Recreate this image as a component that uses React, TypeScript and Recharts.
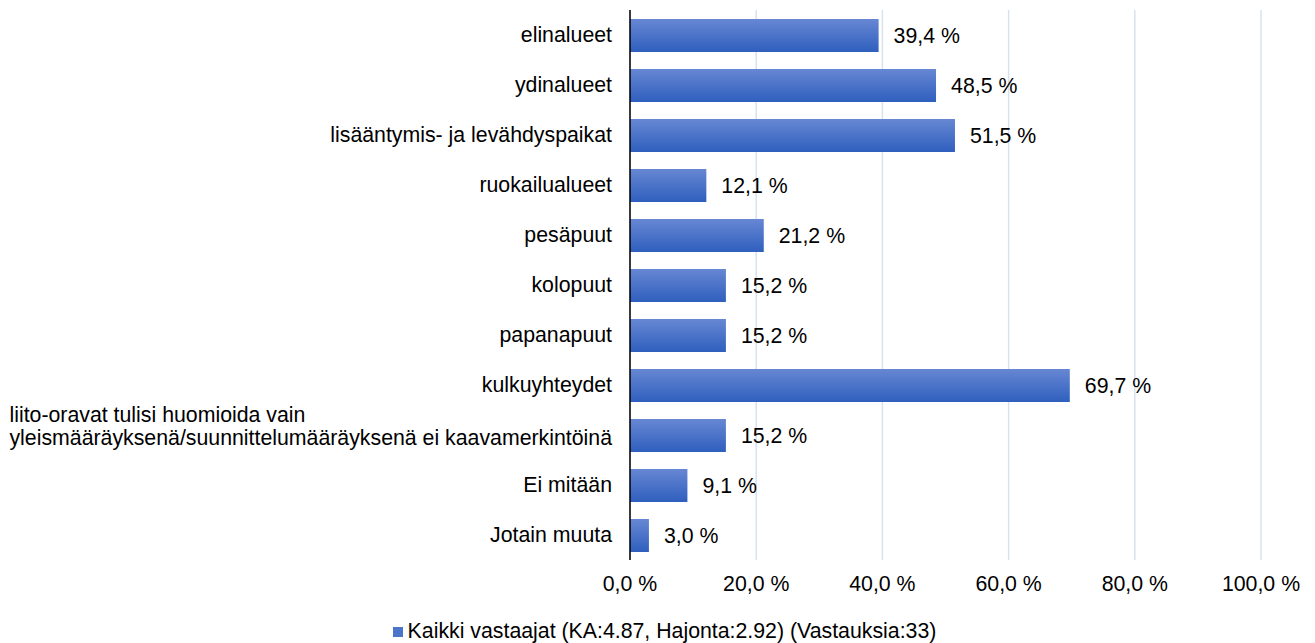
import { BarChart, Bar, XAxis, YAxis, CartesianGrid, LabelList, Legend } from "recharts";

const categories = [
  "elinalueet",
  "ydinalueet",
  "lisääntymis- ja levähdyspaikat",
  "ruokailualueet",
  "pesäpuut",
  "kolopuut",
  "papanapuut",
  "kulkuyhteydet",
  "liito-oravat tulisi huomioida vain\nyleismääräyksenä/suunnittelumääräyksenä ei kaavamerkintöinä",
  "Ei mitään",
  "Jotain muuta",
];
const values = [39.4, 48.5, 51.5, 12.1, 21.2, 15.2, 15.2, 69.7, 15.2, 9.1, 3.0];
const xTicks = [0, 20, 40, 60, 80, 100];
const seriesName = "Kaikki vastaajat (KA:4.87, Hajonta:2.92) (Vastauksia:33)";

const data = categories.map((c, i) => ({ name: c, value: values[i] }));

const FONT = "'Liberation Sans', Arial, sans-serif";
const FS = 21.3;
const pct = (v: number) => `${v.toFixed(1).replace(".", ",")} %`;

let ctx: CanvasRenderingContext2D | null = null;
function measure(s: string) {
  if (!ctx) ctx = document.createElement("canvas").getContext("2d");
  if (!ctx) return s.length * 10;
  ctx.font = `${FS}px ${FONT}`;
  return ctx.measureText(s).width;
}

function CategoryTick({ x, y, payload }: any) {
  const lines: string[] = String(payload.value).split("\n");
  if (lines.length === 1) {
    return (
      <text x={x} y={y} textAnchor="end" dominantBaseline="central" fontSize={FS} fill="#000" fontFamily={FONT}>
        {payload.value}
      </text>
    );
  }
  // wrapped label: lines left-aligned to the widest line
  const widest = Math.max(...lines.map(measure));
  return (
    <text x={x - widest} y={y} textAnchor="start" fontSize={FS} fill="#000" fontFamily={FONT}>
      {lines.map((l, i) => (
        <tspan key={i} x={x - widest} y={y - 20 + i * 23} dominantBaseline="central">
          {l}
        </tspan>
      ))}
    </text>
  );
}

function LegendContent() {
  return (
    <div
      style={{
        display: "flex",
        justifyContent: "center",
        alignItems: "center",
        fontFamily: FONT,
        fontSize: FS,
        color: "#000",
        paddingTop: 10,
        height: 23,
        paddingLeft: 60,
      }}
    >
      <span style={{ width: 10, height: 10, background: "#4a75c9", marginRight: 5, display: "inline-block" }} />
      <span>{seriesName}</span>
    </div>
  );
}

export default function App() {
  return (
    <BarChart
      width={1299}
      height={635}
      data={data}
      layout="vertical"
      margin={{ top: 2, right: 46, bottom: 0, left: 0 }}
    >
      <defs>
        <linearGradient id="barGrad" x1="0" y1="0" x2="0" y2="1">
          <stop offset="0%" stopColor="#6787d3" />
          <stop offset="100%" stopColor="#2f5fbe" />
        </linearGradient>
      </defs>
      <CartesianGrid horizontal={false} stroke="#d9e1f0" strokeWidth={1.5} />
      <XAxis
        type="number"
        domain={[0, 100]}
        ticks={xTicks}
        tickFormatter={pct}
        axisLine={false}
        tickLine={false}
        tickMargin={10}
        tick={{ fontSize: FS, fill: "#000", fontFamily: FONT }}
        height={50}
      />
      <YAxis
        type="category"
        dataKey="name"
        width={622}
        axisLine={{ stroke: "#000", strokeWidth: 1.5 }}
        tickLine={false}
        tick={<CategoryTick />}
        tickMargin={12}
        interval={0}
      />
      <Legend verticalAlign="bottom" content={<LegendContent />} />
      <Bar dataKey="value" name={seriesName} fill="url(#barGrad)" barSize={33} isAnimationActive={false}>
        <LabelList
          dataKey="value"
          position="right"
          offset={15}
          formatter={(v: any) => pct(Number(v))}
          style={{ fontSize: FS, fill: "#000", fontFamily: FONT }}
        />
      </Bar>
    </BarChart>
  );
}
